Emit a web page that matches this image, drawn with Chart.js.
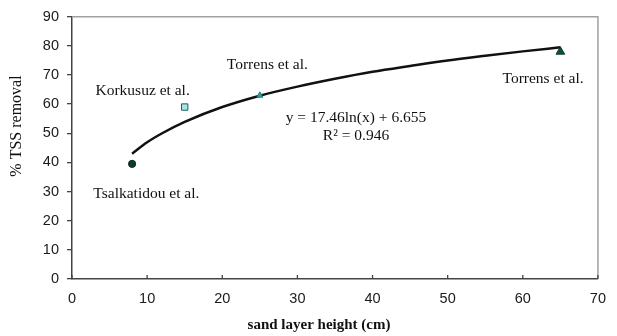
<!DOCTYPE html>
<html>
<head>
<meta charset="utf-8">
<script src="https://cdn.jsdelivr.net/npm/chart.js@4"></script>
<style>
    html, body { margin: 0; padding: 0; background: #fff; }
    #wrap { width: 617px; height: 336px; position: relative; }
</style>
</head>
<body>
<div id="wrap"><canvas id="chart"></canvas></div>
<script>
    // --- Data ---
    const studies = ['Tsalkatidou et al.', 'Korkusuz et al.', 'Torrens et al.', 'Torrens et al.'];
    const sandHeight = [8, 15, 25, 65];          // cm
    const tssRemoval = [39.5, 59, 63, 78];       // %

    // logarithmic trend line (y = 17.46ln(x) + 6.655)
    const trendX = [8, 10, 12, 15, 20, 25, 30, 35, 40, 45, 50, 55, 60, 65];
    const trendY = [43.0, 46.9, 50.0, 53.9, 59.0, 62.9, 66.0, 68.7, 71.1, 73.1, 75.0, 76.6, 78.1, 79.5];

    // label anchors in data units (centre of text)
    const labelX = [9.9, 9.4, 26.0, 62.7];
    const labelY = [29.1, 64.7, 73.6, 68.5];
    const equationText = ['y = 17.46ln(x) + 6.655', 'R\u00B2 = 0.946'];
    const equationX = 37.8;
    const equationY = [55.3, 49.2];

    const xTitle = 'sand layer height (cm)';
    const yTitle = '% TSS removal';

    // marker look per study
    const markerStyle = ['circle', 'rect', 'triangle', 'triangle'];
    const markerFill = ['#0d3b2c', '#a6e6e4', '#2fa3a0', '#0f4f42'];
    const markerBorder = ['#0a2a20', '#1f5f5c', '#1c7a76', '#0a3a30'];
    const markerSize = [3.6, 4.5, 3.5, 5];

    const serif = '"Liberation Serif", "DejaVu Serif", serif';
    Chart.defaults.font.family = '"Liberation Sans", "DejaVu Sans", sans-serif';
    Chart.defaults.color = '#1a1a1a';

    const studyDatasets = studies.map((name, i) => ({
        type: 'scatter',
        label: name,
        data: [{ x: sandHeight[i], y: tssRemoval[i] }],
        pointStyle: markerStyle[i],
        pointRadius: markerSize[i],
        backgroundColor: markerFill[i],
        borderColor: markerBorder[i],
        borderWidth: 1,
        order: 1
    }));

    // Draws the top/right frame, inner x ticks, axis titles and the text annotations.
    const decorations = {
        id: 'decorations',
        afterDatasetsDraw(chart) {
            const { ctx, chartArea: a, scales } = chart;
            ctx.save();
            ctx.strokeStyle = '#a0a0a0';
            ctx.lineWidth = 1.5;
            ctx.beginPath();
            ctx.moveTo(a.left, a.top);
            ctx.lineTo(a.right, a.top);
            ctx.lineTo(a.right, a.bottom);
            ctx.stroke();

            ctx.strokeStyle = '#444';
            ctx.lineWidth = 1.3;
            scales.x.ticks.forEach(t => {
                const px = scales.x.getPixelForValue(t.value);
                ctx.beginPath();
                ctx.moveTo(px, a.bottom);
                ctx.lineTo(px, a.bottom - 4);
                ctx.stroke();
            });

            ctx.fillStyle = '#111';
            ctx.font = '15.5px ' + serif;
            ctx.textAlign = 'center';
            ctx.textBaseline = 'middle';
            studies.forEach((name, i) => {
                ctx.fillText(name, scales.x.getPixelForValue(labelX[i]), scales.y.getPixelForValue(labelY[i]));
            });
            equationText.forEach((txt, i) => {
                ctx.fillText(txt, scales.x.getPixelForValue(equationX), scales.y.getPixelForValue(equationY[i]));
            });

            // axis titles (the originals sit off-centre)
            ctx.font = 'bold 15px ' + serif;
            ctx.fillText(xTitle, 319, 325);
            ctx.font = '16px ' + serif;
            ctx.translate(17, 126);
            ctx.rotate(-Math.PI / 2);
            ctx.fillText(yTitle, 0, 0);
            ctx.restore();
        }
    };

    new Chart(document.getElementById('chart'), {
        data: {
            datasets: [
                ...studyDatasets,
                {
                    type: 'line',
                    label: 'Log trend',
                    data: trendX.map((x, i) => ({ x: x, y: trendY[i] })),
                    borderColor: '#111',
                    borderWidth: 2.5,
                    pointRadius: 0,
                    cubicInterpolationMode: 'monotone',
                    fill: false,
                    order: 2
                }
            ]
        },
        options: {
            responsive: true,
            maintainAspectRatio: false,
            animation: false,
            layout: { padding: { top: 15, right: 7, left: 0, bottom: 0 } },
            plugins: {
                legend: { display: false },
                tooltip: { enabled: false }
            },
            scales: {
                x: {
                    type: 'linear',
                    min: 0,
                    max: 70,
                    ticks: { stepSize: 10, padding: 11, font: { size: 14.5 } },
                    grid: { drawOnChartArea: false, drawTicks: false },
                    border: { color: '#444', width: 1.5 },
                    afterFit: (scale) => { scale.height = 57; }
                },
                y: {
                    min: 0,
                    max: 90,
                    ticks: { stepSize: 10, padding: 8, font: { size: 14.5 } },
                    grid: { drawOnChartArea: false, drawTicks: true, tickLength: 5, color: '#444', lineWidth: 1.3 },
                    border: { color: '#444', width: 1.5 },
                    afterFit: (scale) => { scale.width = 72; }
                }
            }
        },
        plugins: [decorations]
    });
</script>
</body>
</html>
